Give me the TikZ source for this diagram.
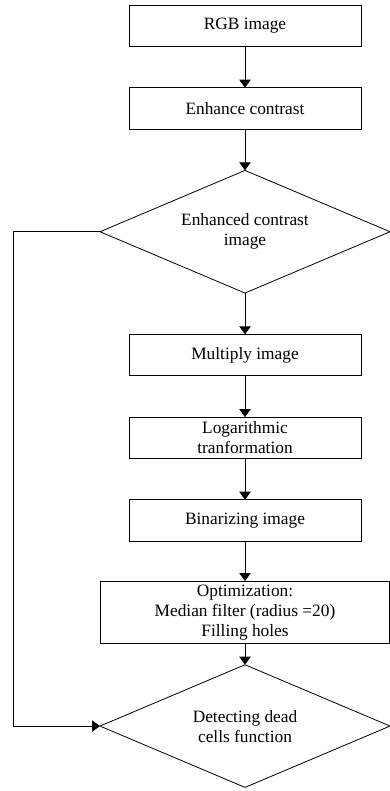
\documentclass[tikz,border=0pt]{standalone}
\usepackage{fontspec}
\setmainfont{Liberation Serif}
\usetikzlibrary{arrows.meta,positioning,shapes.geometric}
\tikzset{
  procnode/.style={draw,line width=0.6pt,outer sep=0pt,inner sep=2pt,minimum width=174pt,minimum height=31pt,align=center,font=\fontsize{13pt}{15pt}\selectfont},
  decnode/.style={draw,diamond,shape aspect=2.36,line width=0.6pt,outer sep=0pt,inner sep=0pt,minimum width=217.5pt,minimum height=92pt,align=center,font=\fontsize{13pt}{15pt}\selectfont},
  flowarrow/.style={-{Triangle[length=6pt,width=8.5pt]},line width=0.6pt},
}
\begin{document}
\begin{tikzpicture}[node distance=31pt]
    \useasboundingbox (0,0) rectangle (291.75pt,-593.25pt);
    \node[procnode] (rgb) at (183.75pt,-19.3pt) {RGB image};
    \node[procnode,below=of rgb] (enh) {Enhance contrast};
    \node[decnode,below=of enh] (enhimg) {Enhanced contrast\\image};
    \node[procnode,below=of enhimg] (mult) {Multiply image};
    \node[procnode,below=of mult] (logt) {Logarithmic\\tranformation};
    \node[procnode,below=of logt] (bin) {Binarizing image};
    \node[procnode,below=30pt of bin,minimum width=217pt,minimum height=47pt] (opt) {Optimization:\\Median filter (radius =20)\\Filling holes};
    \node[decnode,below=15.75pt of opt] (dead) {Detecting dead\\cells function};
    \coordinate (loopx) at (9.75pt,0);
    \draw[flowarrow] (rgb)--(enh); \draw[flowarrow] (enh)--(enhimg);
    \draw[flowarrow] (enhimg)--(mult); \draw[flowarrow] (mult)--(logt);
    \draw[flowarrow] (logt)--(bin); \draw[flowarrow] (bin)--(opt);
    \draw[flowarrow] (opt)--(dead);
    \draw[flowarrow] (enhimg.west)--(enhimg.west -| loopx)|-(dead.west);
  \end{tikzpicture}
\end{document}
